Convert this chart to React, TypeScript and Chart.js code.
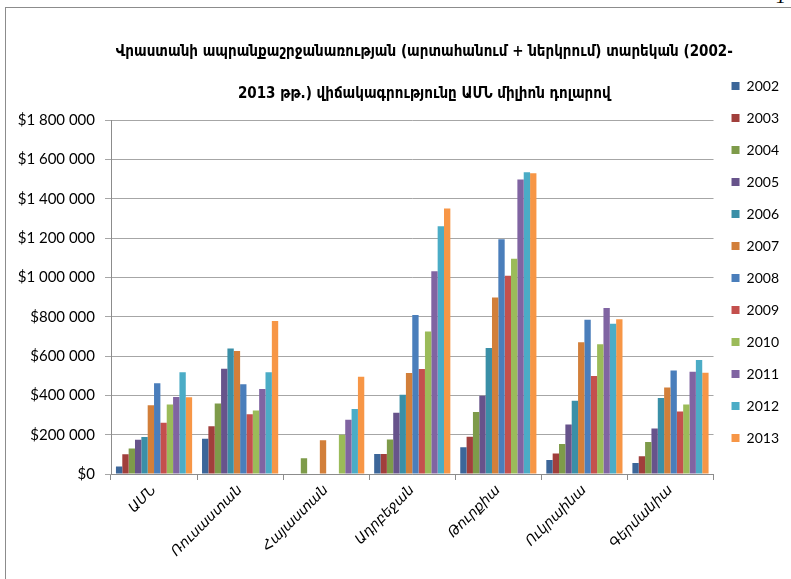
import React, { useEffect, useRef } from "react";
import { Chart, registerables } from "chart.js";

Chart.register(...registerables);

const categories = ["ԱՄՆ", "Ռուսաստան", "Հայաստան", "Ադրբեջան", "Թուրքիա", "Ուկրաինա", "Գերմանիա"];
const years = ["2002", "2003", "2004", "2005", "2006", "2007", "2008", "2009", "2010", "2011", "2012", "2013"];

const v2002 = [38000, 179000, 0, 102000, 136000, 71000, 56000];
const v2003 = [101000, 243000, 0, 102000, 190000, 104000, 90000];
const v2004 = [130000, 359000, 80000, 175000, 315000, 153000, 163000];
const v2005 = [174000, 535000, 0, 311000, 398000, 252000, 231000];
const v2006 = [188000, 638000, 0, 403000, 641000, 372000, 386000];
const v2007 = [350000, 626000, 171000, 514000, 898000, 670000, 440000];
const v2008 = [461000, 456000, 0, 808000, 1194000, 784000, 526000];
const v2009 = [260000, 304000, 0, 534000, 1008000, 498000, 318000];
const v2010 = [354000, 323000, 200000, 724000, 1095000, 660000, 354000];
const v2011 = [391000, 432000, 276000, 1031000, 1497000, 844000, 520000];
const v2012 = [518000, 518000, 330000, 1260000, 1534000, 764000, 580000];
const v2013 = [390000, 778000, 494000, 1350000, 1529000, 787000, 515000];

const seriesValues = [v2002, v2003, v2004, v2005, v2006, v2007, v2008, v2009, v2010, v2011, v2012, v2013];
const seriesColors = [
  "#3c6699", "#a13f3c", "#7e9b4a", "#67538b", "#3a8fa7", "#d27f3a",
  "#4a7ebb", "#c4504d", "#9bbb59", "#8064a2", "#4bacc6", "#f79646",
];

const titleLines = [
  "Վրաստանի ապրանքաշրջանառության (արտահանում + ներկրում) տարեկան (2002-",
  "2013 թթ.) վիճակագրությունը ԱՄՆ միլիոն դոլարով",
];

const yMax = 1800000;
const yStep = 200000;

const fmtMoney = (v: number) =>
  "$" + Math.round(v).toString().replace(/\B(?=(\d{3})+(?!\d))/g, " ");

const placePlugin = {
  id: "place",
  afterLayout(chart: any) {
    const ca = chart.chartArea;
    const t = chart.titleBlock;
    if (t) {
      const want = (ca.left + ca.right) / 2 + 12;
      const d = want - (t.left + t.right) / 2;
      t.left += d;
      t.right += d;
    }
    const lg = chart.legend;
    if (lg) {
      const h = lg.bottom - lg.top;
      lg.top = ca.top - 59;
      lg.bottom = lg.top + h;
    }
  },
};

export default function App() {
  const ref = useRef<HTMLCanvasElement | null>(null);

  useEffect(() => {
    if (!ref.current) return;
    const chart = new Chart(ref.current, {
      type: "bar",
      data: {
        labels: categories,
        datasets: years.map((y, i) => ({
          label: y,
          data: seriesValues[i],
          backgroundColor: seriesColors[i],
          borderWidth: 0,
          categoryPercentage: 0.885,
          barPercentage: 1.0,
        })),
      },
      options: {
        animation: false,
        responsive: false,
        devicePixelRatio: 1,
        layout: { padding: { top: 23, left: 0, right: 2, bottom: 0 } },
        plugins: {
          tooltip: { enabled: false },
          title: {
            display: true,
            text: titleLines,
            color: "#000",
            font: { family: "'DejaVu Sans Condensed', 'DejaVu Sans'", size: 15, weight: "bold", lineHeight: "42px" },
            padding: { top: 0, bottom: 5 },
          },
          legend: {
            display: true,
            position: "right",
            align: "start",
            labels: {
              boxWidth: 8,
              boxHeight: 8,
              padding: 18,
              color: "#000",
              font: { family: "Lato", size: 14 },
            },
          },
        },
        scales: {
          x: {
            grid: {
              display: true,
              offset: true,
              drawOnChartArea: false,
              drawTicks: true,
              tickLength: 6,
              color: "#8c8c8c",
            },
            border: { display: true, color: "#8c8c8c" },
            ticks: {
              color: "#000",
              minRotation: 45,
              maxRotation: 45,
              autoSkip: false,
              padding: 2,
              font: { family: "'DejaVu Sans'", size: 14, style: "italic" },
            },
            afterFit(scale: any) {
              scale.height = 105;
            },
          },
          y: {
            min: 0,
            max: yMax,
            grid: {
              color: "#a6a6a6",
              drawTicks: true,
              tickLength: 6,
            },
            border: { display: true, color: "#8c8c8c" },
            ticks: {
              stepSize: yStep,
              padding: 10,
              color: "#000",
              font: { family: "Lato", size: 15 },
              callback: (v: any) => fmtMoney(Number(v)),
            },
            afterFit(scale: any) {
              scale.width = 105;
            },
          },
        },
      },
      plugins: [placePlugin],
    });
    return () => chart.destroy();
  }, []);

  return (
    <div>
      <div
        style={{
          position: "absolute",
          left: 5,
          top: 7,
          width: 786,
          height: 572,
          boxSizing: "border-box",
          borderLeft: "1px solid #8c8c8c",
          borderTop: "1px solid #8c8c8c",
          background: "#fff",
          overflow: "hidden",
        }}
      >
        <canvas ref={ref} width={785} height={571} style={{ display: "block" }} />
      </div>
      <div
        style={{
          position: "absolute",
          left: 776,
          top: -15,
          fontFamily: "'Liberation Serif', serif",
          fontStyle: "italic",
          fontSize: 20,
          color: "#000",
          overflow: "hidden",
        }}
      >
        1
      </div>
    </div>
  );
}
